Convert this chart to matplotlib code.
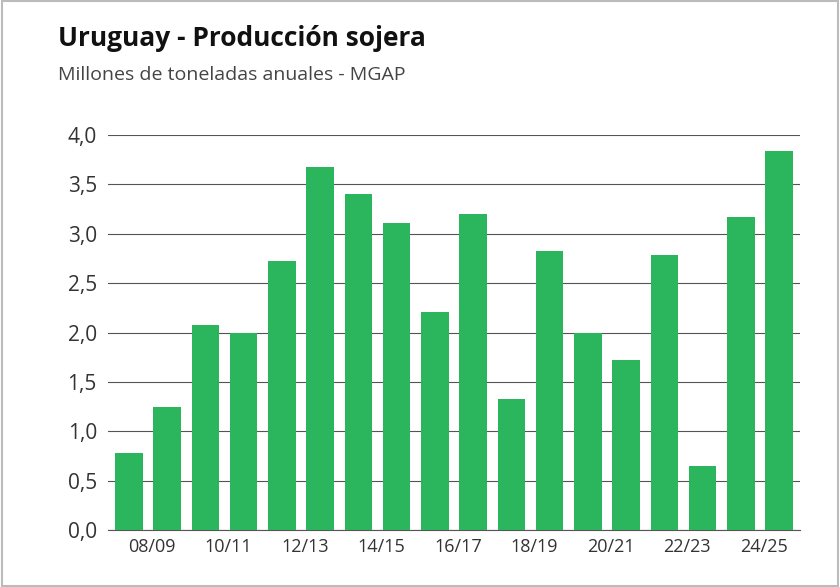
import matplotlib
matplotlib.use("Agg")
import matplotlib.pyplot as plt
from matplotlib.patches import Rectangle

seasons = ["07/08","08/09","09/10","10/11","11/12","12/13","13/14","14/15","15/16",
           "16/17","17/18","18/19","19/20","20/21","21/22","22/23","23/24","24/25"]
values = [0.78,1.25,2.08,2.00,2.72,3.68,3.40,3.11,2.21,3.20,1.33,2.83,1.99,1.72,2.78,0.65,3.17,3.84]
yticks = [0,0.5,1,1.5,2,2.5,3,3.5,4]

plt.rcParams["font.family"] = "Open Sans"
fig = plt.figure(figsize=(8.4,5.87), dpi=100)
fig.patches.append(Rectangle((0.002,0.002),0.996,0.996,transform=fig.transFigure,
                             fill=False,edgecolor="#bbbbbb",lw=1.5))
ax = fig.add_axes([108/840, 57/587, (800-108)/840, (530-135)/587])
x = list(range(len(values)))
ax.bar(x, values, width=0.72, color="#2bb55c", zorder=3)
ax.set_ylim(0,4)
ax.set_xlim(-0.55, len(values)-0.45)
ax.set_yticks(yticks)
ax.set_yticklabels([f"{v:.1f}".replace(".",",") for v in yticks], fontsize=15, color="#333333")
ax.yaxis.grid(True, color="#555555", lw=0.8, zorder=0)
ax.tick_params(axis="y", length=0, pad=8)
idx = list(range(1,len(values),2))
ax.set_xticks([i-0.4 for i in idx])
ax.set_xticklabels([seasons[i] for i in idx], fontsize=13, color="#333333")
ax.tick_params(axis="x", length=0, pad=6)
for s in ["top","right","left"]:
    ax.spines[s].set_visible(False)
ax.spines["bottom"].set_color("#555555")
fig.text(58/840, 1-38/587, "Uruguay - Producción sojera", fontsize=19, fontweight="bold",
         va="center", color="#111111")
fig.text(58/840, 1-75/587, "Millones de toneladas anuales - MGAP", fontsize=14,
         va="center", color="#444444")
fig.savefig("out.png", dpi=100)
